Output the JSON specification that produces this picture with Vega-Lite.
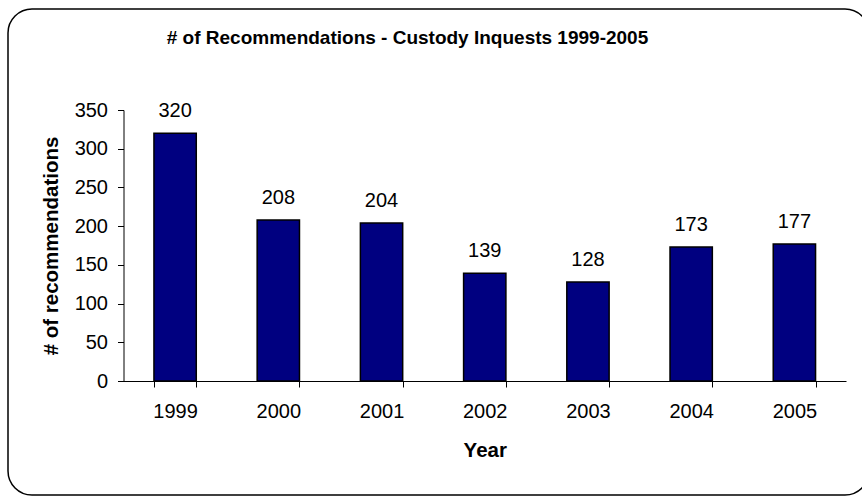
{
  "$schema": "https://vega.github.io/schema/vega-lite/v6.json",
  "width": 861,
  "height": 486,
  "autosize": {"type": "none"},
  "padding": {"left": 8, "top": 9, "right": -7, "bottom": 1},
  "background": "white",
  "config": {
    "font": "Liberation Sans",
    "view": {"stroke": "black", "strokeWidth": 1.5, "cornerRadius": 24},
    "axis": {
      "grid": false,
      "domainColor": "black",
      "tickColor": "black",
      "labelColor": "black",
      "titleColor": "black",
      "labelFont": "Liberation Sans",
      "titleFont": "Liberation Sans",
      "labelFontSize": 20,
      "titleFontSize": 20.5,
      "titleFontWeight": "bold",
      "domainWidth": 1,
      "tickWidth": 1
    }
  },
  "title": {
    "text": "# of Recommendations - Custody Inquests 1999-2005",
    "anchor": "middle",
    "frame": "group",
    "fontSize": 19,
    "fontWeight": "bold",
    "font": "Liberation Sans",
    "color": "black",
    "baseline": "alphabetic",
    "offset": 0,
    "dy": 54,
    "dx": -31
  },
  "data": {
    "values": [
      {"year": "1999", "n": 320},
      {"year": "2000", "n": 208},
      {"year": "2001", "n": 204},
      {"year": "2002", "n": 139},
      {"year": "2003", "n": 128},
      {"year": "2004", "n": 173},
      {"year": "2005", "n": 177}
    ]
  },
  "encoding": {
    "x": {
      "field": "year",
      "type": "ordinal",
      "scale": {"type": "band", "range": [115.5, 838], "paddingInner": 0.59, "paddingOuter": 0.295},
      "axis": {"title": "Year", "labelAngle": 0, "offset": -114, "tickBand": "extent", "tickSize": 6, "labelPadding": 14, "titlePadding": 19}
    },
    "y": {
      "field": "n",
      "type": "quantitative",
      "scale": {"domain": [0, 350], "range": [372, 101], "nice": false},
      "axis": {"title": "# of recommendations", "values": [0, 50, 100, 150, 200, 250, 300, 350], "offset": -115.5, "tickSize": 6, "labelPadding": 10, "titlePadding": 13}
    }
  },
  "layer": [
    {"mark": {"type": "bar", "color": "#000080", "stroke": "black", "strokeWidth": 1.5}},
    {
      "mark": {"type": "text", "dy": -16, "baseline": "alphabetic", "fontSize": 20, "font": "Liberation Sans", "color": "black"},
      "encoding": {"text": {"field": "n", "type": "quantitative"}}
    }
  ]
}
